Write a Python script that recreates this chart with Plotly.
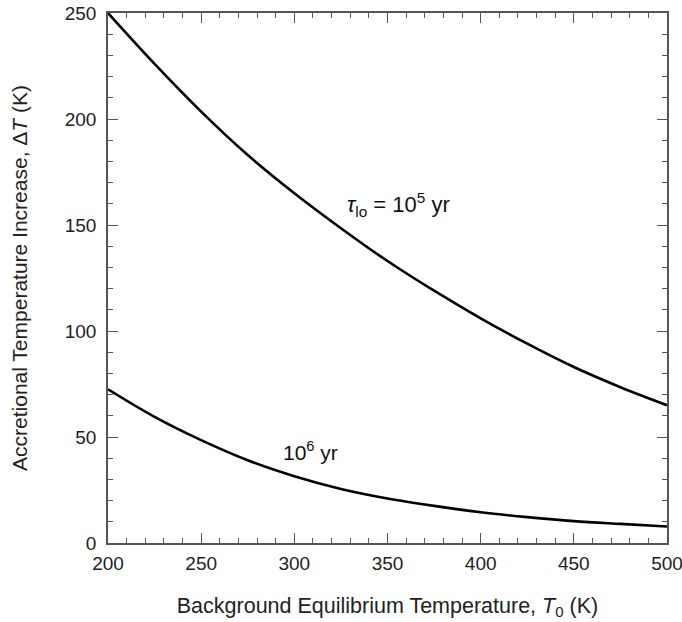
import plotly.graph_objects as go

# Background equilibrium temperature T0 (K)
T0 = [200, 225, 250, 275, 300, 325, 350, 375, 400, 425, 450, 475, 500]
# Accretional temperature increase (K), tau_lo = 1e5 yr
dT_1e5 = [250, 226, 203.5, 183, 165, 148.5, 133, 119, 106, 94, 83, 73.5, 65]
# Accretional temperature increase (K), tau_lo = 1e6 yr
dT_1e6 = [72.5, 59.5, 48.5, 39, 31.5, 25.5, 21, 17.5, 14.5, 12.2, 10.3, 9, 7.8]

FONT = "Liberation Sans"

fig = go.Figure()
for ys in (dT_1e5, dT_1e6):
    fig.add_trace(go.Scatter(x=T0, y=ys, mode="lines",
                             line=dict(color="black", width=2.6, shape="spline", smoothing=1.0),
                             showlegend=False, hoverinfo="skip"))

fig.add_annotation(x=356, y=159.5, text="<i>τ</i><sub>lo</sub> = 10<sup>5</sup> yr",
                   showarrow=False, font=dict(size=22, color="#111", family=FONT))
fig.add_annotation(x=308.5, y=43.5, text="10<sup>6</sup> yr",
                   showarrow=False, font=dict(size=21, color="#111", family=FONT))

axis_common = dict(
    showgrid=False, zeroline=False, showline=True, linecolor="#555", linewidth=1.5,
    mirror="ticks", ticks="inside", ticklen=10, tickwidth=1.3, tickcolor="#555",
    tickfont=dict(size=19, color="#222", family=FONT), ticklabeloverflow="allow",
    automargin=False,
)

fig.update_xaxes(range=[200, 500], dtick=50, tick0=200, ticklabelstandoff=2,
                 minor=dict(dtick=10, ticks="inside", ticklen=5, tickwidth=1.2, tickcolor="#555"),
                 title=dict(text="Background Equilibrium Temperature, <i>T</i><sub>0</sub> (K)",
                            font=dict(size=21.5, color="#222", family=FONT), standoff=25),
                 **axis_common)
fig.update_yaxes(range=[0, 250], dtick=50, tick0=0, ticklabelstandoff=6,
                 minor=dict(dtick=10, ticks="inside", ticklen=5, tickwidth=1.2, tickcolor="#555"),
                 title=dict(text="Accretional Temperature Increase, Δ<i>T</i> (K)",
                            font=dict(size=21, color="#222", family=FONT), standoff=31),
                 **axis_common)

fig.update_layout(width=682, height=622, plot_bgcolor="white", paper_bgcolor="white",
                  margin=dict(l=108, r=15, t=13, b=79))

fig.write_html("out.html", config={"displayModeBar": False},
               post_script="document.body.style.margin='0';")
